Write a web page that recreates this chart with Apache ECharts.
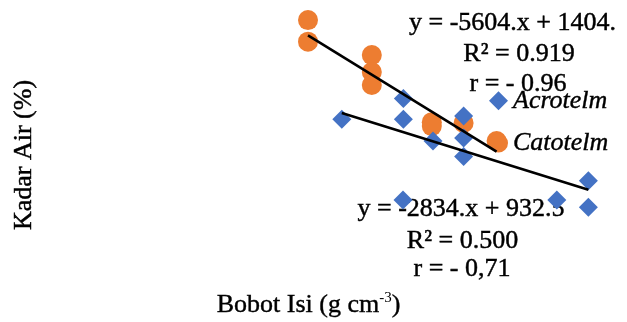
<!DOCTYPE html>
<html>
<head>
<meta charset="utf-8">
<script src="https://cdn.jsdelivr.net/npm/echarts@6/dist/echarts.min.js"></script>
<style>
  html, body { margin: 0; padding: 0; background: #fff; }
  #chart { width: 627px; height: 322px; }
</style>
</head>
<body>
<div id="chart"></div>
<script>
// Bulk density (g cm-3) and water content (%) per layer
const acrotelmX = [0.0771, 0.1079, 0.1079, 0.1227, 0.1380, 0.1380, 0.1380, 0.1077, 0.1846, 0.2004, 0.2004];
const acrotelmY = [685, 780, 685, 586, 700, 600, 516, 318, 318, 406, 285];
const catotelmX = [0.0602, 0.0602, 0.0921, 0.0921, 0.0921, 0.1221, 0.1221, 0.1380, 0.1545];
const catotelmY = [1136, 1038, 977, 900, 841, 672, 654, 668, 586];

// Linear trend lines: y = slope * x + intercept
const seriesNames = ['Acrotelm', 'Catotelm'];
const trendSlope = [-2834, -5604];
const trendIntercept = [932.5, 1404];

const serif = '"Liberation Serif", "Times New Roman", serif';

function pairs(xs, ys) { return xs.map((x, i) => [x, ys[i]]); }
function trend(xs, k) {
  const lo = Math.min(...xs), hi = Math.max(...xs);
  return [[lo, trendSlope[k] * lo + trendIntercept[k]], [hi, trendSlope[k] * hi + trendIntercept[k]]];
}

function label(text, x, y, align, extra) {
  return Object.assign({
    type: 'text', x: x, y: y, z: 1,
    style: {
      text: text, font: '26px ' + serif, fill: '#000',
      stroke: '#000', lineWidth: 0.45,
      align: align, verticalAlign: 'middle'
    }
  }, extra || {});
}

const chart = echarts.init(document.getElementById('chart'), null, { renderer: 'canvas' });
chart.setOption({
  animation: false,
  backgroundColor: '#fff',
  grid: { left: 287.6, top: 17, width: 330, height: 220, outerBoundsMode: 'none' },
  xAxis: { type: 'value', min: 0.05, max: 0.215, show: false },
  yAxis: { type: 'value', min: 150, max: 1150, show: false },
  legend: {
    data: seriesNames,
    orient: 'vertical',
    left: 489, top: 87.5,
    padding: 0,
    itemWidth: 19, itemHeight: 19,
    itemGap: 16,
    textStyle: {
      fontFamily: serif, fontStyle: 'italic', fontSize: 26, lineHeight: 25, color: '#000',
      textBorderColor: '#000', textBorderWidth: 0.4
    }
  },
  series: [
    {
      name: 'Acrotelm', type: 'scatter', symbol: 'diamond', symbolSize: 19, z: 3,
      itemStyle: { color: '#4472C4', opacity: 1 },
      data: pairs(acrotelmX, acrotelmY)
    },
    {
      name: 'Catotelm', type: 'scatter', symbol: 'circle', symbolSize: 20, z: 2,
      itemStyle: { color: '#ED7D31', opacity: 1 },
      data: pairs(catotelmX, catotelmY)
    },
    {
      name: 'trend-acrotelm', type: 'line', showSymbol: false, silent: true, z: 5,
      lineStyle: { color: '#000', width: 2.6 },
      data: trend(acrotelmX, 0)
    },
    {
      name: 'trend-catotelm', type: 'line', showSymbol: false, silent: true, z: 5,
      lineStyle: { color: '#000', width: 2.6 },
      data: trend(catotelmX, 1)
    }
  ],
  graphic: [
    label('y = -5604.x + 1404.', 409, 23, 'left'),
    label('R\u00B2 = 0.919', 519, 54.6, 'center'),
    label('r = - 0.96', 518, 84.6, 'center'),
    label('y = -2834.x + 932.5', 461, 209.3, 'center'),
    label('R\u00B2 = 0.500', 462.5, 241.3, 'center'),
    label('r = - 0,71', 462, 269.3, 'center'),
    label('Kadar Air (%)', 24.5, 155, 'center', { rotation: Math.PI / 2 }),
    {
      type: 'text', x: 308.5, y: 305,
      style: {
        text: '{a|Bobot Isi (g cm}{b|-3}{a|)}',
        align: 'center', verticalAlign: 'middle', fill: '#000',
        rich: {
          a: { fontFamily: serif, fontSize: 26, lineHeight: 28, fill: '#000', stroke: '#000', lineWidth: 0.4 },
          b: { fontFamily: serif, fontSize: 15, lineHeight: 28, verticalAlign: 'top', fill: '#000' }
        }
      }
    }
  ]
});
</script>
</body>
</html>
